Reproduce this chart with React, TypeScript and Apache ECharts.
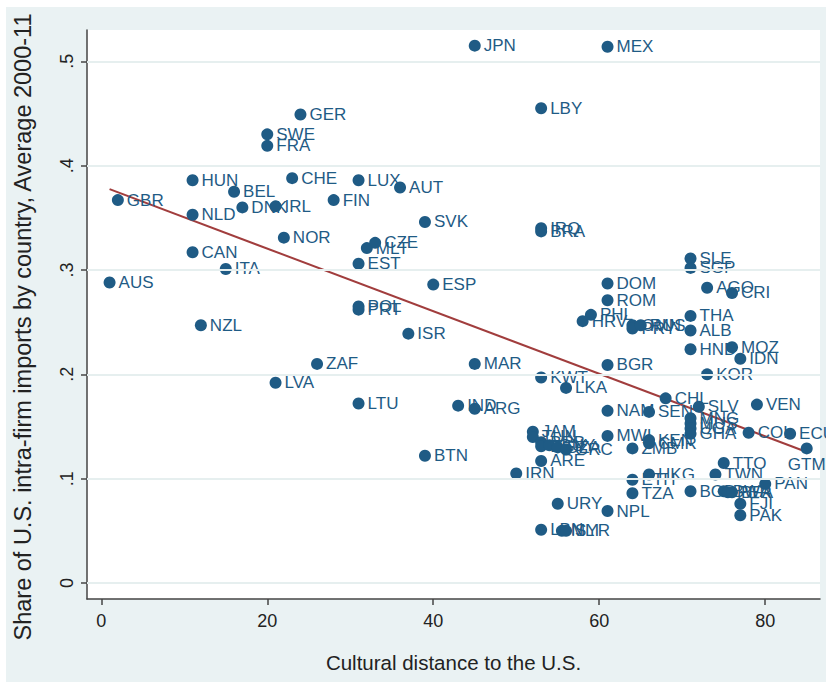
import React, { useEffect, useRef } from "react";
import * as echarts from "echarts";

const names = [
  "AUS", "GBR", "HUN", "NLD", "CAN", "NZL", "ITA", "BEL", "DNK", "SWE",
  "FRA", "IRL", "LVA", "NOR", "CHE", "GER", "ZAF", "FIN", "LUX", "EST",
  "POL", "PRT", "LTU", "MLT", "CZE", "AUT", "ISR", "SVK", "BTN", "ESP",
  "IND", "JPN", "MAR", "ARG", "IRN", "JAM", "TUN", "BRB", "EGY", "GUY",
  "DZA", "GRC", "ARE", "LBY", "IRQ", "BRA", "KWT", "LBN", "URY", "LKA",
  "MLI", "SYR", "HRV", "PHL", "DOM", "ROM", "BGR", "NAM", "MWI", "NPL",
  "MEX", "OMN", "PRY", "RUS", "ZMB", "ETH", "TZA", "SEN", "KEN", "CMR",
  "HKG", "CHL", "SLE", "SGP", "THA", "ALB", "HND", "MNG", "MUS", "UGA",
  "GHA", "BGD", "SLV", "AGO", "KOR", "TWN", "TTO", "BWA", "PER", "BFA",
  "CRI", "MOZ", "IDN", "FJI", "PAK", "COL", "VEN", "PAN", "ECU", "GTM",
];

const culturalDistance = [
  1, 2, 11, 11, 11, 12, 15, 16, 17, 20,
  20, 21, 21, 22, 23, 24, 26, 28, 31, 31,
  31, 31, 31, 32, 33, 36, 37, 39, 39, 40,
  43, 45, 45, 45, 50, 52, 52, 53, 53, 54,
  55, 56, 53, 53, 53, 53, 53, 53, 55, 56,
  55.5, 56, 58, 59, 61, 61, 61, 61, 61, 61,
  61, 64, 64, 65, 64, 64, 64, 66, 66, 66,
  66, 68, 71, 71, 71, 71, 71, 71, 71, 71,
  71, 71, 72, 73, 73, 74, 75, 75, 75.5, 76,
  76, 76, 77, 77, 77, 78, 79, 80, 83, 85,
];

const intraFirmShare = [
  0.288, 0.367, 0.386, 0.353, 0.317, 0.247, 0.301, 0.375, 0.360, 0.430,
  0.419, 0.361, 0.192, 0.331, 0.388, 0.449, 0.210, 0.367, 0.386, 0.306,
  0.265, 0.262, 0.172, 0.321, 0.326, 0.379, 0.239, 0.346, 0.122, 0.286,
  0.170, 0.515, 0.210, 0.167, 0.105, 0.145, 0.140, 0.135, 0.131, 0.132,
  0.130, 0.128, 0.117, 0.455, 0.340, 0.337, 0.197, 0.051, 0.076, 0.187,
  0.050, 0.050, 0.251, 0.257, 0.287, 0.271, 0.209, 0.165, 0.141, 0.069,
  0.514, 0.247, 0.244, 0.247, 0.129, 0.099, 0.086, 0.164, 0.137, 0.134,
  0.104, 0.177, 0.311, 0.302, 0.256, 0.242, 0.224, 0.158, 0.153, 0.148,
  0.143, 0.088, 0.169, 0.283, 0.200, 0.104, 0.115, 0.088, 0.087, 0.087,
  0.278, 0.226, 0.215, 0.076, 0.065, 0.144, 0.171, 0.095, 0.143, 0.129,
];

const fitX = [1, 85];
const fitY = [0.3775, 0.1256];

const xTicks = [0, 20, 40, 60, 80];
const yTicks = [0, 0.1, 0.2, 0.3, 0.4, 0.5];
const yTickLabels = ["0", ".1", ".2", ".3", ".4", ".5"];

const xTitle = "Cultural distance to the U.S.";
const yTitle = "Share of U.S. intra-firm imports by country, Average 2000-11";

const NAVY = "#1f5b85";
const FONT = "'Liberation Sans', Arial, Helvetica, sans-serif";

export default function App() {
  const ref = useRef<HTMLDivElement>(null);
  useEffect(() => {
    document.body.style.margin = "0";
    const chart = echarts.init(ref.current!, null, { renderer: "svg" });
    const points = names.map((n, i) => {
      const item: any = { value: [culturalDistance[i], intraFirmShare[i]], name: n };
      if (n === "GTM") item.label = { position: "bottom", distance: 2 };
      return item;
    });
    chart.setOption({
      animation: false,
      backgroundColor: "#ffffff",
      textStyle: { fontFamily: FONT },
      graphic: [
        {
          type: "rect",
          z: -10,
          shape: { x: 6, y: 7, width: 820, height: 675 },
          style: { fill: "#eaf2f3" },
          silent: true,
        },
        {
          type: "text",
          x: 23,
          y: 327,
          rotation: Math.PI / 2,
          silent: true,
          style: {
            text: yTitle,
            fontSize: 23.5,
            fontFamily: FONT,
            fill: "#222",
            align: "center",
            verticalAlign: "middle",
          },
        },
      ],
      grid: {
        left: 87,
        right: 6,
        top: 30,
        bottom: 83,
        show: true,
        backgroundColor: "#ffffff",
        borderWidth: 0,
      },
      xAxis: {
        type: "value",
        min: -1.72,
        max: 86.6,
        name: xTitle,
        nameLocation: "middle",
        nameGap: 53,
        nameTextStyle: { fontSize: 20.5, color: "#222", fontFamily: FONT },
        axisLine: { show: true, onZero: false, lineStyle: { color: "#444", width: 1.5 } },
        axisTick: { show: true, length: 6, customValues: xTicks, lineStyle: { color: "#444", width: 1.5 } },
        axisLabel: { customValues: xTicks, fontSize: 18, color: "#222", margin: 13, fontFamily: FONT },
        splitLine: { show: false },
      },
      yAxis: {
        type: "value",
        min: -0.0153,
        max: 0.53,
        axisLine: { show: true, onZero: false, lineStyle: { color: "#444", width: 1.5 } },
        axisTick: { show: true, length: 6, customValues: yTicks, lineStyle: { color: "#444", width: 1.5 } },
        axisLabel: {
          customValues: yTicks,
          rotate: 90,
          fontSize: 18,
          color: "#222",
          margin: 11,
          fontFamily: FONT,
          formatter: (v: number) => {
            const idx = yTicks.findIndex((t) => Math.abs(t - v) < 1e-9);
            return idx >= 0 ? yTickLabels[idx] : "";
          },
        },
        splitLine: { show: false },
      },
      series: [
        {
          type: "scatter",
          data: [],
          silent: true,
          z: 1,
          markLine: {
            silent: true,
            symbol: "none",
            label: { show: false },
            lineStyle: { color: "#e6efef", width: 2, type: "solid" },
            data: yTicks.map((v) => ({ yAxis: v })),
          },
        },
        {
          type: "line",
          data: fitX.map((x, i) => [x, fitY[i]]),
          showSymbol: false,
          symbol: "none",
          z: 3,
          lineStyle: { color: "#a13d3d", width: 2 },
        },
        {
          type: "scatter",
          data: points,
          symbolSize: 12,
          z: 4,
          clip: false,
          itemStyle: { color: NAVY, opacity: 1 },
          label: {
            show: true,
            position: "right",
            distance: 3,
            formatter: (p: any) => p.name,
            color: NAVY,
            fontSize: 17,
            fontFamily: FONT,
            textBorderWidth: 0,
          },
          labelLayout: { hideOverlap: false },
        },
      ],
    });
    return () => chart.dispose();
  }, []);
  return <div ref={ref} style={{ width: 826, height: 682 }} />;
}
